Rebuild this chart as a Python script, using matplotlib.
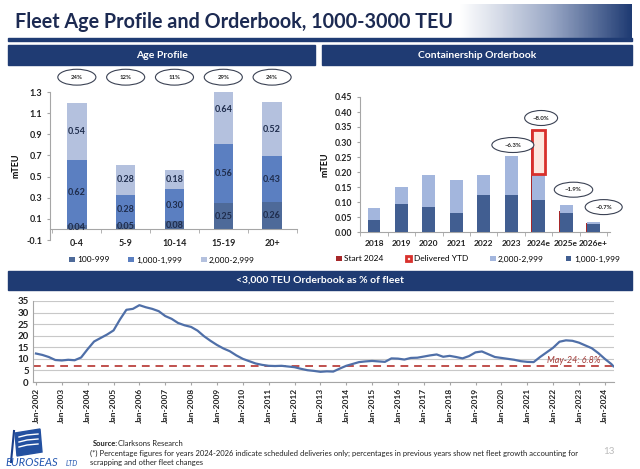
import numpy as np
import pandas as pd
import matplotlib.pyplot as plt
import matplotlib.dates as mdates
from matplotlib.patches import Ellipse, Rectangle, Polygon
from matplotlib.colors import LinearSegmentedColormap

plt.rcParams['font.family'] = ['Lato', 'DejaVu Sans']

W, H = 640, 469

# ---- data ----
age_groups = ['0-4', '5-9', '10-14', '15-19', '20+']
age_100_999 = [0.04, 0.05, 0.08, 0.25, 0.26]
age_1000_1999 = [0.62, 0.28, 0.30, 0.56, 0.43]
age_2000_2999 = [0.54, 0.28, 0.18, 0.64, 0.52]
age_share = ['24%', '12%', '11%', '29%', '24%']

ob_years = ['2018', '2019', '2020', '2021', '2022', '2023', '2024e', '2025e', '2026e+']
ob_1000_1999 = [0.039, 0.094, 0.082, 0.064, 0.122, 0.124, 0.108, 0.063, 0.028]
ob_2000_2999 = [0.041, 0.056, 0.107, 0.110, 0.067, 0.129, 0.086, 0.028, 0.005]
start_2024 = {'2024e': 0.34, '2025e': 0.069, '2026e+': 0.03}
delivered_ytd = {'2024e': 0.145}
ob_growth = {'2023': '~6.3%', '2024e': '~8.0%', '2025e': '~1.9%', '2026e+': '~0.7%'}

# orderbook as % of fleet, quarterly from Jan-2002, last point May-24
ob_pct = [12.3, 11.7, 10.8, 9.5,
          9.3, 9.6, 9.4, 10.6,
          14.2, 17.5, 19.0, 20.5,
          22.3, 27.0, 31.2, 31.6,
          33.2, 32.3, 31.6, 30.6,
          28.5, 27.3, 25.5, 24.5,
          23.8, 22.2, 19.8, 17.8,
          16.0, 14.5, 13.3, 11.5,
          10.0, 9.0, 8.0, 7.4,
          7.0, 6.9, 7.0, 6.7,
          6.4, 5.7, 5.1, 4.8,
          4.4, 4.6, 4.5, 5.8,
          7.0, 7.8, 8.6, 8.9,
          9.1, 8.9, 8.7, 10.2,
          10.1, 9.7, 10.4, 10.5,
          11.0, 11.5, 11.9, 10.9,
          11.3, 10.8, 10.2, 11.2,
          12.8, 13.2, 12.0, 10.8,
          10.4, 10.0, 9.6, 9.0,
          8.7, 8.6, 10.8, 12.8,
          14.8, 17.4, 18.0, 17.8,
          17.0, 15.8, 14.6, 12.5,
          10.0, 7.8, 6.8]
latest_pct = 6.8

NAVY = '#1f3b73'
C_SMALL = '#4e6a99'
C_MID = '#5b7fc1'
C_LIGHT = '#b4c1de'
OB_DARK = '#415e91'
OB_LIGHT = '#a3b6dd'
RED_DARK = '#a7282a'
RED = '#d8302c'
TXT = '#1f2d4d'
GRAY = '#a6a6a6'


def box(x0, y0, x1, y1):
    # pixel rectangle -> figure fraction
    return [x0 / W, 1 - y1 / H, (x1 - x0) / W, (y1 - y0) / H]


fig = plt.figure(figsize=(W / 100, H / 100), dpi=100)

# ---- Age profile ----
ax1 = fig.add_axes(box(50, 92, 297, 240))
x = np.arange(len(age_groups))
bw = 0.4
bottom2 = np.add(age_100_999, age_1000_1999)
b1 = ax1.bar(x, age_100_999, bw, color=C_SMALL)
b2 = ax1.bar(x, age_1000_1999, bw, bottom=age_100_999, color=C_MID)
b3 = ax1.bar(x, age_2000_2999, bw, bottom=bottom2, color=C_LIGHT)
for vals, bots in [(age_100_999, np.zeros(len(x))), (age_1000_1999, age_100_999), (age_2000_2999, bottom2)]:
    for xi, v, b in zip(x, vals, bots):
        ax1.text(xi, b + v / 2, f'{v:.2f}', ha='center', va='center', fontsize=6.5,
                 fontweight='bold', color=TXT)
ax1.set_ylim(-0.1, 1.3)
ax1.set_xlim(-0.55, 4.51)
ax1.set_yticks(np.round(np.arange(-0.1, 1.31, 0.2), 1))
ax1.set_yticklabels([f'{v:.1f}' for v in np.arange(-0.1, 1.31, 0.2)])
ax1.set_xticks(x, age_groups)
ax1.set_xticks(np.arange(-0.5, 4.6, 1), minor=True)
ax1.spines[['top', 'right']].set_visible(False)
ax1.spines['bottom'].set_position(('data', 0))
for s in ['bottom', 'left']:
    ax1.spines[s].set_color(GRAY)
ax1.tick_params(axis='x', which='major', length=0, pad=7, labelsize=6.5, colors='#222')
ax1.tick_params(axis='x', which='minor', length=3, color=GRAY)
ax1.tick_params(axis='y', length=2, color=GRAY, labelsize=6.5, colors='#222')
for lab in ax1.get_xticklabels() + ax1.get_yticklabels():
    lab.set_fontweight('bold')
ax1.set_ylabel('mTEU', fontsize=6.5, fontweight='bold', labelpad=4)
ax1.set_facecolor('none')
for xi, s in zip(x, age_share):
    ax1.add_patch(Ellipse((xi, 1.44), 0.78, 0.15, fc='white', ec='#3b4254', lw=0.8, clip_on=False))
    ax1.text(xi, 1.44, s, ha='center', va='center', fontsize=4.3, fontweight='bold', color='#222')
fig.legend([b1, b2, b3], ['100-999', '1,000-1,999', '2,000-2,999'], loc='center',
           bbox_to_anchor=(162 / W, 1 - 260 / H), ncol=3, frameon=False, fontsize=6,
           handlelength=0.7, handleheight=0.7, handletextpad=0.3, columnspacing=2.2)

# ---- Containership orderbook ----
ax2 = fig.add_axes(box(360, 97, 610, 232))
xo = np.arange(len(ob_years))
bw2 = 0.47
for k, v in start_2024.items():
    i = ob_years.index(k)
    r_start = ax2.bar(i - bw2 / 2 - 0.03, v, 0.1, align='edge', color=RED_DARK, zorder=2)
s1 = ax2.bar(xo, ob_1000_1999, bw2, color=OB_DARK, zorder=3)
s2 = ax2.bar(xo, ob_2000_2999, bw2, bottom=ob_1000_1999, color=OB_LIGHT, zorder=3)
ob_total = np.add(ob_1000_1999, ob_2000_2999)
for k, v in delivered_ytd.items():
    i = ob_years.index(k)
    r_del = ax2.bar(i, v, bw2, bottom=ob_total[i], facecolor='#fde8df', edgecolor=RED,
                    lw=2, zorder=4)
oval_dx = {'2023': 0.06, '2024e': 0.09, '2025e': 0.27, '2026e+': 0.37}
oval_dy = {'2023': 0.037, '2024e': 0.041, '2025e': 0.05, '2026e+': 0.05}
oval_w = {'2023': 1.53, '2024e': 1.2, '2025e': 1.4, '2026e+': 1.35}
for k, s in ob_growth.items():
    i = ob_years.index(k)
    top = ob_total[i] + delivered_ytd.get(k, 0)
    cx, cy = i + oval_dx[k], top + oval_dy[k]
    ax2.add_patch(Ellipse((cx, cy), oval_w[k], 0.05, fc='white', ec='#3b4254', lw=0.8,
                          clip_on=False, zorder=5))
    ax2.text(cx, cy, s, ha='center', va='center', fontsize=4.3, fontweight='bold', color='#222', zorder=6)
ax2.set_ylim(0, 0.45)
ax2.set_xlim(-0.51, 8.6)
ax2.set_yticks(np.arange(0, 0.451, 0.05))
ax2.set_yticklabels([f'{v:.2f}' for v in np.arange(0, 0.451, 0.05)])
ax2.set_xticks(xo, ob_years)
ax2.set_xticks(np.arange(-0.5, 8.6, 1), minor=True)
ax2.spines[['top', 'right']].set_visible(False)
for s in ['bottom', 'left']:
    ax2.spines[s].set_color(GRAY)
ax2.tick_params(axis='x', which='major', length=0, pad=6, labelsize=6, colors='#222')
ax2.tick_params(axis='x', which='minor', length=3, color=GRAY)
ax2.tick_params(axis='y', length=2, color=GRAY, labelsize=6.3, colors='#222')
for lab in ax2.get_xticklabels() + ax2.get_yticklabels():
    lab.set_fontweight('bold')
ax2.set_ylabel('mTEU', fontsize=6.5, fontweight='bold', labelpad=4)
ax2.set_facecolor('none')
fig.legend([r_start, r_del, s2, s1], ['Start 2024', 'Delivered YTD', '2,000-2,999', '1,000-1,999'],
           loc='center', bbox_to_anchor=(478 / W, 1 - 259 / H), ncol=4, frameon=False, fontsize=6,
           handlelength=0.7, handleheight=0.7, handletextpad=0.3, columnspacing=2.6)

# ---- Orderbook % of fleet ----
ax3 = fig.add_axes(box(33, 301, 614, 382))
dates = np.append(pd.date_range('2002-01-01', periods=len(ob_pct) - 1, freq='QS').to_numpy(),
                  np.datetime64('2024-05-01'))
ax3.plot(dates, ob_pct, color='#4f6fa8', lw=1.6, zorder=3)
ax3.axhline(latest_pct, color='#c0504d', lw=1.4, ls=(0, (4, 3)), zorder=2)
ax3.text(np.datetime64('2023-11-01'), 9.2, f'May-24: {latest_pct}%', ha='right', va='center',
         fontsize=6.5, style='italic', color='#a33a36', zorder=4)
ax3.set_ylim(0, 35)
ax3.set_yticks(np.arange(0, 36, 5))
ax3.set_xlim(np.datetime64('2001-11-20'), np.datetime64('2024-05-10'))
ax3.xaxis.set_major_locator(mdates.YearLocator(1, month=1, day=1))
ax3.xaxis.set_major_formatter(mdates.DateFormatter('%b-%Y'))
ax3.grid(axis='y', color='#c8c8c8', lw=0.8)
ax3.set_axisbelow(True)
ax3.spines[['top', 'right']].set_visible(False)
for s in ['bottom', 'left']:
    ax3.spines[s].set_color(GRAY)
ax3.tick_params(axis='x', length=2, color=GRAY, labelsize=6, colors='#222', labelrotation=90, pad=2)
ax3.tick_params(axis='y', length=0, labelsize=7, colors='#222', pad=3)
for lab in ax3.get_xticklabels() + ax3.get_yticklabels():
    lab.set_fontweight('bold')
ax3.set_facecolor('none')

# ---- slide decoration ----
deco = fig.add_axes([0, 0, 1, 1])
deco.set_facecolor('none')
grad = LinearSegmentedColormap.from_list('g', ['#ffffff', '#ffffff', '#9aa8c6', NAVY])
deco.imshow(np.linspace(0, 1, 256)[None, :] ** 1.3, cmap=grad, aspect='auto',
            extent=[330, 632, 38, 4], zorder=0)
deco.set_xlim(0, W)
deco.set_ylim(H, 0)
deco.axis('off')
deco.add_patch(Rectangle((8, 38.5), 624, 2.5, color=NAVY, zorder=1))
deco.text(15, 22, 'Fleet Age Profile and Orderbook, 1000-3000 TEU', fontsize=14.2,
          fontweight='bold', color='#1c2a52', va='center', zorder=2)
for (x0, y0, w, h, t) in [(8, 45, 307, 20, 'Age Profile'),
                          (322, 45, 310, 20, 'Containership Orderbook'),
                          (8, 271, 624, 19, '<3,000 TEU Orderbook as % of fleet')]:
    deco.add_patch(Rectangle((x0, y0), w, h, color=NAVY, zorder=1))
    deco.text(x0 + w / 2, y0 + h / 2, t, color='white', fontsize=7.5, fontweight='bold',
              ha='center', va='center', zorder=2)

# logo
deco.add_patch(Polygon([(15, 433), (40, 429), (42, 452), (17, 456)], color='#2350a0', zorder=1))
for yy in [437, 442, 447]:
    deco.plot([19, 27, 38], [yy, yy - 2, yy - 3], color='white', lw=1, zorder=2)
deco.plot([14, 11], [431, 462], color='#1a3f8a', lw=1.5, zorder=2)
deco.text(5, 462, 'EUROSEAS', fontsize=8, style='italic', color='#2155b0', va='center', zorder=2)
deco.text(66, 463, 'LTD', fontsize=5, style='italic', color='#2155b0', va='center', zorder=2)

# footer
deco.text(93, 444, 'Source:', fontsize=5.5, fontweight='bold', color='#222', va='center')
deco.text(118, 444, 'Clarksons Research', fontsize=5.5, color='#222', va='center')
deco.text(90, 453, '(*) Percentage figures for years 2024-2026 indicate scheduled deliveries only; '
          'percentages in previous years show net fleet growth accounting for',
          fontsize=5.5, color='#222', va='center')
deco.text(90, 463, 'scrapping and other fleet changes', fontsize=5.5, color='#222', va='center')
deco.text(603, 452, '13', fontsize=7, color='#bbbbbb', va='center')

fig.savefig('out.png', dpi=100)
